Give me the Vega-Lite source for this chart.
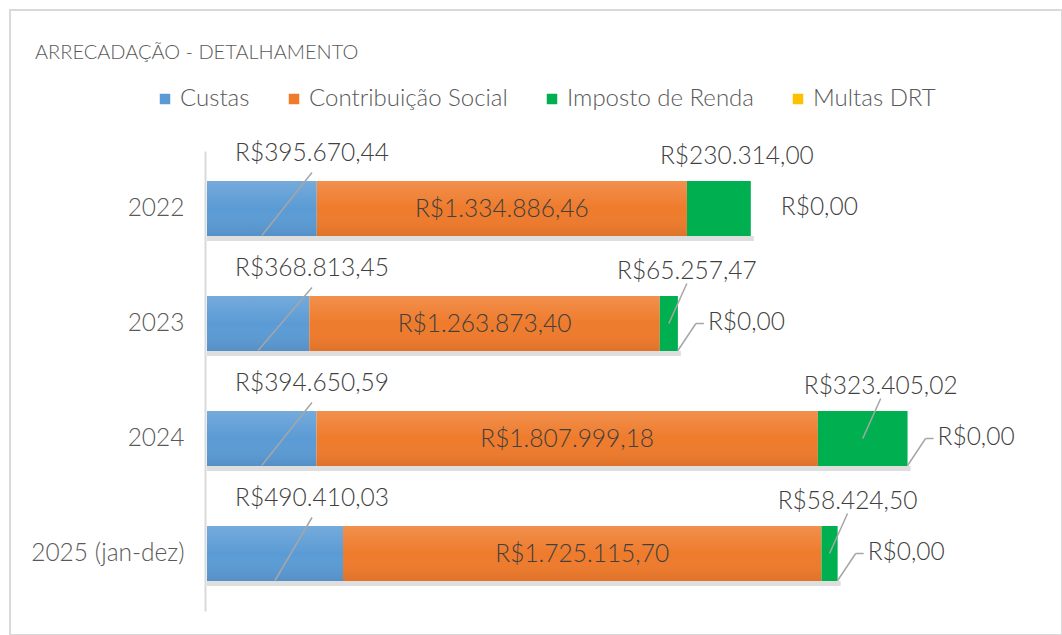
{
  "$schema": "https://vega.github.io/schema/vega-lite/v6.json",
  "autosize": "none",
  "width": 1052,
  "height": 625,
  "padding": {"left": 10, "top": 10, "right": 0, "bottom": 0},
  "background": "white",
  "config": {
    "locale": {"number": {"decimal": ",", "thousands": ".", "grouping": [3], "currency": ["R$", ""]}},
    "view": {"stroke": "#d9d9d9", "strokeWidth": 2},
    "font": "Lato"
  },
  "title": {
    "text": "ARRECADAÇÃO - DETALHAMENTO",
    "anchor": "start",
    "frame": "group",
    "dx": 25,
    "offset": -63,
    "baseline": "middle",
    "font": "Lato",
    "fontSize": 20,
    "fontWeight": 300,
    "color": "#595959"
  },
  "data": {
    "values": [
      {"ano": "2022", "serie": "Custas", "valor": 395670.44},
      {"ano": "2022", "serie": "Contribuição Social", "valor": 1334886.46},
      {"ano": "2022", "serie": "Imposto de Renda", "valor": 230314.00},
      {"ano": "2022", "serie": "Multas DRT", "valor": 0},
      {"ano": "2023", "serie": "Custas", "valor": 368813.45},
      {"ano": "2023", "serie": "Contribuição Social", "valor": 1263873.40},
      {"ano": "2023", "serie": "Imposto de Renda", "valor": 65257.47},
      {"ano": "2023", "serie": "Multas DRT", "valor": 0},
      {"ano": "2024", "serie": "Custas", "valor": 394650.59},
      {"ano": "2024", "serie": "Contribuição Social", "valor": 1807999.18},
      {"ano": "2024", "serie": "Imposto de Renda", "valor": 323405.02},
      {"ano": "2024", "serie": "Multas DRT", "valor": 0},
      {"ano": "2025 (jan-dez)", "serie": "Custas", "valor": 490410.03},
      {"ano": "2025 (jan-dez)", "serie": "Contribuição Social", "valor": 1725115.70},
      {"ano": "2025 (jan-dez)", "serie": "Imposto de Renda", "valor": 58424.50},
      {"ano": "2025 (jan-dez)", "serie": "Multas DRT", "valor": 0}
    ]
  },
  "transform": [{"stack": "valor", "groupby": ["ano"], "as": ["x0", "x1"]}],
  "encoding": {
    "y": {
      "field": "ano",
      "type": "nominal",
      "sort": null,
      "scale": {"range": [141, 601], "paddingInner": 0.52, "paddingOuter": 0.26},
      "axis": {
        "title": null,
        "offset": -195,
        "ticks": false,
        "domainColor": "#d9d9d9",
        "domainWidth": 2,
        "labelFont": "Lato",
        "labelFontSize": 24.5,
        "labelFontWeight": 300,
        "labelColor": "#595959",
        "labelPadding": 21
      }
    }
  },
  "layer": [
    {
      "transform": [{"aggregate": [{"op": "min", "field": "x0", "as": "a"}, {"op": "max", "field": "x1", "as": "b"}], "groupby": ["ano"]}],
      "mark": {"type": "bar", "height": 5, "yOffset": 30, "x2Offset": 3, "color": "#000000", "opacity": 0.13},
      "encoding": {
        "x": {"field": "a", "type": "quantitative", "axis": null, "scale": {"domain": [0, 3000000], "range": [197, 1029]}},
        "x2": {"field": "b"}
      }
    },
    {
      "mark": {"type": "bar"},
      "encoding": {
        "x": {"field": "x0", "type": "quantitative", "axis": null},
        "x2": {"field": "x1"},
        "color": {
          "field": "serie",
          "type": "nominal",
          "scale": {
            "domain": ["Custas", "Contribuição Social", "Imposto de Renda", "Multas DRT"],
            "range": ["#5b9bd5", "#ef7b2c", "#00b050", "#ffc000"]
          },
          "legend": {
            "orient": "none",
            "legendX": 143,
            "legendY": 77,
            "direction": "horizontal",
            "title": null,
            "symbolType": "square",
            "symbolSize": 110,
            "symbolStrokeWidth": 0,
            "labelFont": "Lato",
            "labelFontSize": 24,
            "labelFontWeight": 300,
            "labelColor": "#595959",
            "labelOffset": 3,
            "columnPadding": 32,
            "labelLimit": 400
          }
        }
      }
    },
    {
      "transform": [{"filter": "datum.serie == 'Custas' || datum.serie == 'Contribuição Social'"}],
      "mark": {
        "type": "bar",
        "fill": {
          "gradient": "linear", "x1": 0, "y1": 0, "x2": 0, "y2": 1,
          "stops": [
            {"offset": 0, "color": "rgba(255,255,255,0.16)"},
            {"offset": 0.5, "color": "rgba(255,255,255,0)"},
            {"offset": 1, "color": "rgba(0,0,0,0.07)"}
          ]
        }
      },
      "encoding": {
        "x": {"field": "x0", "type": "quantitative", "axis": null},
        "x2": {"field": "x1"}
      }
    },
    {
      "transform": [
        {"filter": "datum.serie == 'Custas'"},
        {"fold": ["x0", "x1"], "as": ["k", "v"]},
        {"aggregate": [{"op": "mean", "field": "v", "as": "mid"}], "groupby": ["ano"]}
      ],
      "mark": {"type": "rule", "color": "#a6a6a6", "strokeWidth": 1.5, "yOffset": 27, "y2Offset": -36, "x2Offset": 105},
      "encoding": {
        "x": {"field": "mid", "type": "quantitative", "axis": null},
        "x2": {"datum": 0},
        "y2": {"field": "ano"}
      }
    },
    {
      "transform": [
        {"filter": "datum.serie == 'Imposto de Renda' && datum.ano != '2022'"},
        {"fold": ["x0", "x1"], "as": ["k", "v"]},
        {"aggregate": [{"op": "mean", "field": "v", "as": "mid"}], "groupby": ["ano"]}
      ],
      "mark": {"type": "rule", "color": "#a6a6a6", "strokeWidth": 1.5, "yOffset": 0, "y2Offset": -40, "x2Offset": 18},
      "encoding": {
        "x": {"field": "mid", "type": "quantitative", "axis": null},
        "x2": {"field": "mid"},
        "y2": {"field": "ano"}
      }
    },
    {
      "transform": [{"filter": "datum.serie == 'Multas DRT' && datum.ano != '2022'"}],
      "mark": {"type": "rule", "color": "#a6a6a6", "strokeWidth": 1.5, "yOffset": 27, "y2Offset": 0, "x2Offset": 18},
      "encoding": {
        "x": {"field": "x1", "type": "quantitative", "axis": null},
        "x2": {"field": "x1"},
        "y2": {"field": "ano"}
      }
    },
    {
      "transform": [{"filter": "datum.serie == 'Multas DRT' && datum.ano != '2022'"}],
      "mark": {"type": "rule", "color": "#a6a6a6", "strokeWidth": 1.5, "xOffset": 18, "x2Offset": 26},
      "encoding": {
        "x": {"field": "x1", "type": "quantitative", "axis": null},
        "x2": {"field": "x1"}
      }
    },
    {
      "transform": [{"filter": "datum.serie == 'Custas'"}],
      "mark": {"type": "text", "font": "Lato", "fontSize": 24.5, "fontWeight": 300, "color": "#404040", "align": "center", "baseline": "middle", "dx": 105, "dy": -55},
      "encoding": {
        "x": {"datum": 0, "type": "quantitative", "axis": null},
        "text": {"field": "valor", "type": "quantitative", "format": "$,.2f"}
      }
    },
    {
      "transform": [
        {"filter": "datum.serie == 'Contribuição Social'"},
        {"fold": ["x0", "x1"], "as": ["k", "v"]},
        {"aggregate": [{"op": "mean", "field": "v", "as": "mid"}], "groupby": ["ano", "valor"]}
      ],
      "mark": {"type": "text", "font": "Lato", "fontSize": 24.5, "fontWeight": 300, "color": "#404040", "align": "center", "baseline": "middle", "dy": 1},
      "encoding": {
        "x": {"field": "mid", "type": "quantitative", "axis": null},
        "text": {"field": "valor", "type": "quantitative", "format": "$,.2f"}
      }
    },
    {
      "transform": [
        {"filter": "datum.serie == 'Imposto de Renda'"},
        {"fold": ["x0", "x1"], "as": ["k", "v"]},
        {"aggregate": [{"op": "mean", "field": "v", "as": "mid"}], "groupby": ["ano", "valor"]}
      ],
      "mark": {"type": "text", "font": "Lato", "fontSize": 24.5, "fontWeight": 300, "color": "#404040", "align": "center", "baseline": "middle", "dx": 18, "dy": -52},
      "encoding": {
        "x": {"field": "mid", "type": "quantitative", "axis": null},
        "text": {"field": "valor", "type": "quantitative", "format": "$,.2f"}
      }
    },
    {
      "transform": [{"filter": "datum.serie == 'Multas DRT'"}],
      "mark": {"type": "text", "font": "Lato", "fontSize": 24.5, "fontWeight": 300, "color": "#404040", "align": "left", "baseline": "middle", "dx": 30, "dy": -1},
      "encoding": {
        "x": {"field": "x1", "type": "quantitative", "axis": null},
        "text": {"field": "valor", "type": "quantitative", "format": "$,.2f"}
      }
    }
  ]
}
